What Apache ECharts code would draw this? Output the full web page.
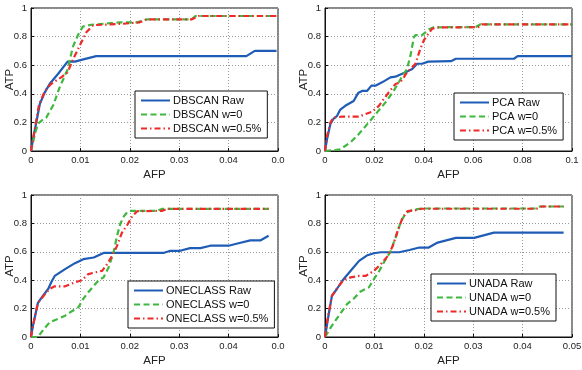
<!DOCTYPE html>
<html>
<head>
<meta charset="utf-8">
<script src="https://cdn.jsdelivr.net/npm/echarts@6/dist/echarts.min.js"></script>
<style>
  html, body { margin: 0; padding: 0; background: #fff; }
  #chart { width: 582px; height: 370px; }
</style>
</head>
<body>
<div id="chart"></div>
<script>
// tick labels (the 0.05 label is clipped to "0.0" in the original figure)
const xTicksShort = ['0', '0.01', '0.02', '0.03', '0.04', '0.0'];
const xTicksPca = ['0', '0.02', '0.04', '0.06', '0.08', '0.1'];
const xTicksUnada = ['0', '0.01', '0.02', '0.03', '0.04', '0.05'];

const methods = ['DBSCAN', 'PCA', 'ONECLASS', 'UNADA'];
const variants = ['Raw', 'w=0', 'w=0.5%'];

// [AFP, ATP] pairs
const dbscanRaw = [[0,0],[0.0004,0.08],[0.0018,0.33],[0.0028,0.41],[0.0038,0.47],[0.0055,0.54],[0.0074,0.625],[0.0089,0.625],[0.0102,0.637],[0.0132,0.663],[0.0436,0.663],[0.0453,0.70],[0.0497,0.70]];
const dbscanW0 = [[0,0],[0.0007,0.105],[0.0014,0.19],[0.0024,0.22],[0.0031,0.234],[0.0045,0.32],[0.0058,0.445],[0.0074,0.57],[0.0085,0.73],[0.0095,0.81],[0.0105,0.87],[0.0122,0.883],[0.0183,0.9],[0.0215,0.9],[0.0234,0.92],[0.0325,0.92],[0.0333,0.944],[0.0497,0.944]];
const dbscanW05 = [[0,0],[0.0004,0.08],[0.0016,0.32],[0.0028,0.42],[0.0041,0.47],[0.0061,0.515],[0.0074,0.55],[0.0085,0.64],[0.0099,0.74],[0.0112,0.83],[0.0126,0.88],[0.0187,0.89],[0.022,0.9],[0.0234,0.92],[0.0325,0.92],[0.034,0.944],[0.0497,0.944]];

const pcaRaw = [[0,0],[0.0008,0.08],[0.0022,0.19],[0.0035,0.227],[0.0049,0.246],[0.0062,0.29],[0.0082,0.316],[0.0116,0.35],[0.0134,0.405],[0.015,0.42],[0.017,0.42],[0.0188,0.457],[0.0204,0.457],[0.0231,0.48],[0.0265,0.515],[0.0285,0.52],[0.0312,0.54],[0.0332,0.555],[0.0353,0.574],[0.0373,0.61],[0.0393,0.61],[0.0418,0.625],[0.051,0.628],[0.053,0.645],[0.0765,0.645],[0.078,0.663],[0.1,0.663]];
const pcaW0 = [[0,0],[0.0042,0.007],[0.0062,0.012],[0.0103,0.06],[0.0136,0.117],[0.0177,0.2],[0.0211,0.27],[0.0245,0.34],[0.0278,0.42],[0.0305,0.5],[0.0332,0.574],[0.0346,0.667],[0.036,0.796],[0.0366,0.81],[0.0393,0.81],[0.04,0.82],[0.042,0.85],[0.044,0.865],[0.061,0.867],[0.063,0.886],[0.1,0.886]];
const pcaW05 = [[0,0],[0.0008,0.105],[0.0022,0.2],[0.0035,0.234],[0.0069,0.24],[0.0136,0.24],[0.0164,0.258],[0.019,0.274],[0.0218,0.316],[0.0238,0.363],[0.0258,0.41],[0.0285,0.468],[0.0305,0.48],[0.0319,0.515],[0.0332,0.55],[0.0353,0.585],[0.0366,0.61],[0.0386,0.714],[0.04,0.773],[0.0418,0.82],[0.0434,0.855],[0.0454,0.864],[0.062,0.866],[0.0635,0.886],[0.1,0.886]];

const oneclassRaw = [[0,0],[0.0004,0.08],[0.0014,0.24],[0.0024,0.29],[0.0035,0.34],[0.0041,0.385],[0.0048,0.43],[0.0069,0.478],[0.0089,0.52],[0.0106,0.548],[0.0127,0.56],[0.0137,0.576],[0.0147,0.592],[0.0268,0.592],[0.0282,0.607],[0.0302,0.607],[0.0322,0.626],[0.0343,0.626],[0.0363,0.643],[0.04,0.643],[0.042,0.66],[0.0444,0.68],[0.0464,0.68],[0.0481,0.713]];
const oneclassW0 = [[0,0],[0.0014,0],[0.0024,0.047],[0.0038,0.105],[0.0055,0.128],[0.0069,0.15],[0.0082,0.18],[0.0096,0.21],[0.0106,0.27],[0.0116,0.315],[0.0127,0.36],[0.0137,0.4],[0.0147,0.42],[0.0157,0.49],[0.0167,0.594],[0.0174,0.71],[0.0181,0.8],[0.0188,0.85],[0.0195,0.88],[0.02,0.888],[0.0255,0.888],[0.0265,0.902],[0.0481,0.902]];
const oneclassW05 = [[0,0],[0.0004,0.08],[0.0014,0.24],[0.0028,0.3],[0.0038,0.34],[0.0048,0.357],[0.0069,0.357],[0.0089,0.385],[0.0103,0.4],[0.0116,0.443],[0.013,0.455],[0.0144,0.466],[0.0154,0.513],[0.0164,0.57],[0.0174,0.64],[0.0184,0.734],[0.0195,0.79],[0.0205,0.85],[0.0215,0.886],[0.0265,0.888],[0.0275,0.902],[0.0481,0.902]];

const unadaRaw = [[0,0],[0.0007,0.15],[0.0014,0.29],[0.0024,0.338],[0.0035,0.396],[0.0052,0.466],[0.0069,0.536],[0.0086,0.576],[0.0099,0.59],[0.0113,0.597],[0.015,0.597],[0.0171,0.613],[0.0191,0.63],[0.021,0.63],[0.0228,0.665],[0.0265,0.698],[0.0302,0.698],[0.0342,0.735],[0.0483,0.735]];
const unadaW0 = [[0,0],[0.0014,0.08],[0.0028,0.15],[0.0045,0.233],[0.0059,0.273],[0.0072,0.32],[0.0089,0.35],[0.0099,0.408],[0.011,0.466],[0.012,0.53],[0.0133,0.606],[0.0144,0.711],[0.0154,0.816],[0.0164,0.874],[0.0178,0.897],[0.0198,0.905],[0.0425,0.905],[0.0435,0.919],[0.0483,0.919]];
const unadaW05 = [[0,0],[0.0004,0.105],[0.0014,0.29],[0.0024,0.34],[0.0038,0.403],[0.0052,0.42],[0.0069,0.43],[0.0082,0.43],[0.0099,0.466],[0.0113,0.513],[0.0127,0.57],[0.0137,0.64],[0.0147,0.746],[0.0157,0.84],[0.0167,0.886],[0.0184,0.893],[0.0195,0.903],[0.0428,0.903],[0.0438,0.919],[0.0483,0.919]];

const FONT = 'Liberation Sans, Arial, sans-serif';
const BLUE = '#1f5cb5';
const GREEN = '#3fb83f';
const RED = '#ee2a2a';

const panels = [
  {grid: {left: 31, top: 8, width: 247, height: 143}, xMax: 0.05, xStep: 0.01, ticks: xTicksShort,
   data: [dbscanRaw, dbscanW0, dbscanW05], legend: {left: 135, top: 91}},
  {grid: {left: 325, top: 8, width: 247, height: 143}, xMax: 0.1, xStep: 0.02, ticks: xTicksPca,
   data: [pcaRaw, pcaW0, pcaW05], legend: {left: 454, top: 93}},
  {grid: {left: 31, top: 195, width: 247, height: 142}, xMax: 0.05, xStep: 0.01, ticks: xTicksShort,
   data: [oneclassRaw, oneclassW0, oneclassW05], legend: {left: 128, top: 281}},
  {grid: {left: 325, top: 195, width: 247, height: 142}, xMax: 0.05, xStep: 0.01, ticks: xTicksUnada,
   data: [unadaRaw, unadaW0, unadaW05], legend: {left: 431, top: 274}},
];

const lineStyles = [
  {color: BLUE, width: 2.2, type: 'solid'},
  {color: GREEN, width: 2.2, type: [6, 3.5]},
  {color: RED, width: 2.2, type: [6, 3, 1.5, 3]},
];

const chart = echarts.init(document.getElementById('chart'), null, {renderer: 'canvas'});

const option = {
  animation: false,
  backgroundColor: '#fff',
  textStyle: {fontFamily: FONT},
  grid: panels.map(p => ({...p.grid, show: true, borderColor: '#111', borderWidth: 1,
    containLabel: false, outerBoundsMode: 'none'})),
  xAxis: panels.map((p, i) => ({
    type: 'value', gridIndex: i, min: 0, max: p.xMax, interval: p.xStep,
    name: 'AFP', nameLocation: 'middle', nameGap: 18,
    nameTextStyle: {fontSize: 11.5, color: '#222', fontFamily: FONT},
    axisLine: {lineStyle: {color: '#111', width: 1}},
    axisTick: {inside: true, length: 3, lineStyle: {color: '#111'}},
    axisLabel: {
      fontSize: 9.5, color: '#222', margin: 4, fontFamily: FONT,
      formatter: v => p.ticks[Math.round(v / p.xStep)],
    },
    splitLine: {show: true, lineStyle: {color: '#999', type: [1, 2], width: 1}},
  })),
  yAxis: panels.map((p, i) => ({
    type: 'value', gridIndex: i, min: 0, max: 1, interval: 0.2,
    name: 'ATP', nameLocation: 'middle', nameGap: 15, nameMoveOverlap: false,
    nameTextStyle: {fontSize: 11.5, color: '#222', fontFamily: FONT},
    axisLine: {lineStyle: {color: '#111', width: 1}},
    axisTick: {inside: true, length: 3, lineStyle: {color: '#111'}},
    axisLabel: {fontSize: 9.5, color: '#222', margin: 4, fontFamily: FONT},
    splitLine: {show: true, lineStyle: {color: '#999', type: [1, 2], width: 1}},
  })),
  legend: panels.map((p, i) => ({
    orient: 'vertical', left: p.legend.left, top: p.legend.top,
    data: variants.map(v => methods[i] + ' ' + v),
    padding: [4, 6, 4, 5], itemGap: 3, itemWidth: 29, itemHeight: 11,
    backgroundColor: '#fff', borderColor: '#111', borderWidth: 1,
    selectedMode: false,
    itemStyle: {opacity: 0},
    textStyle: {fontSize: 11, color: '#111', fontFamily: FONT, padding: [0, 0, 0, -2]},
  })),
  series: [],
};

panels.forEach((p, i) => {
  p.data.forEach((d, k) => {
    option.series.push({
      type: 'line', name: methods[i] + ' ' + variants[k],
      xAxisIndex: i, yAxisIndex: i,
      data: d, symbol: 'none', showSymbol: false,
      lineStyle: lineStyles[k], itemStyle: {color: lineStyles[k].color},
      z: 3 + k,
    });
  });
});

chart.setOption(option);
</script>
</body>
</html>
